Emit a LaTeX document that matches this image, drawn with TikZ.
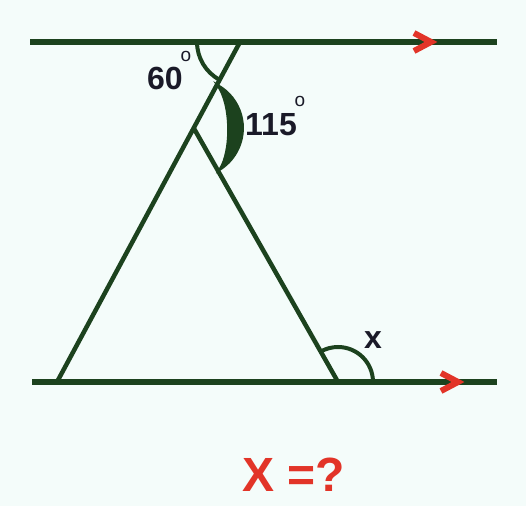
\documentclass[tikz,border=0pt]{standalone}
\usepackage{fontspec}
\setmainfont{Liberation Sans}
\usetikzlibrary{calc}
\definecolor{linegreen}{RGB}{28,66,30}
\definecolor{arrowred}{RGB}{226,52,40}
\definecolor{labelink}{RGB}{26,26,40}
\definecolor{paper}{RGB}{244,252,250}
\begin{document}
\begin{tikzpicture}[x=1pt, y=1pt,
    parallel/.style={line width=5.5pt, linegreen},
    side/.style={line width=4.5pt, linegreen},
    anglearc/.style={line width=4pt, linegreen},
    chevron/.style={line width=6pt, arrowred, line join=miter},
    lbl/.style={font=\bfseries\fontsize{32}{32}\selectfont, text=labelink, inner sep=0pt},
    degsign/.style={font=\fontsize{19}{19}\selectfont, text=labelink, inner sep=0pt}]
  \fill[paper] (0,0) rectangle (526,506);
  \useasboundingbox (0,0) rectangle (526,506);
  % parallel lines and the triangle
  \coordinate (tl) at (30,464);
  \coordinate (tr) at (497,464);
  \coordinate (bl) at (32,124);
  \coordinate (br) at (497,124);
  \coordinate (T) at (240,464);
  \coordinate (B) at (57,124);
  \coordinate (A) at ($(T)!0.253!(B)$);
  \coordinate (C) at (338,124);
  \draw[parallel] (tl) -- (tr)
                  (bl) -- (br);
  \draw[side] (T) -- (B)
              (A) -- (C);
  % red direction marks
  \coordinate (tip1) at (431,464);
  \coordinate (tip2) at (458,124);
  \draw[chevron] ($(tip1)+(-17,9)$) -- (tip1) -- ($(tip1)+(-17,-9)$);
  \draw[chevron] ($(tip2)+(-17,9)$) -- (tip2) -- ($(tip2)+(-17,-9)$);
  % angle arcs
  \draw[anglearc] ($(T)+(180:43)$) arc[start angle=180, end angle=241.7, radius=43];
  \coordinate (c1) at ($(A)+(61:49)$);
  \coordinate (c2) at ($(A)+(-58:49)$);
  \filldraw[linegreen, line width=2.5pt] (c1) arc[start angle=61, end angle=-58, radius=49]
        .. controls ($(A)+(38,-24)$) and ($(A)+(38,24)$) .. (c1) -- cycle;
  \draw[anglearc] ($(C)+(0:35)$) arc[start angle=0, end angle=119.4, radius=35];
  % labels
  \node[lbl] (a60) at (165,428) {60};
  \node[degsign] (o60) at (186,450) {o};
  \node[lbl] (a115) at (271,381) {115};
  \node[degsign] (o115) at (300,405) {o};
  \node[lbl] (ax) at (373,166) {x};
  \node[font=\bfseries\fontsize{48}{48}\selectfont, text=arrowred, inner sep=0pt] (ask) at (294,31) {X =?};
\end{tikzpicture}
\end{document}
